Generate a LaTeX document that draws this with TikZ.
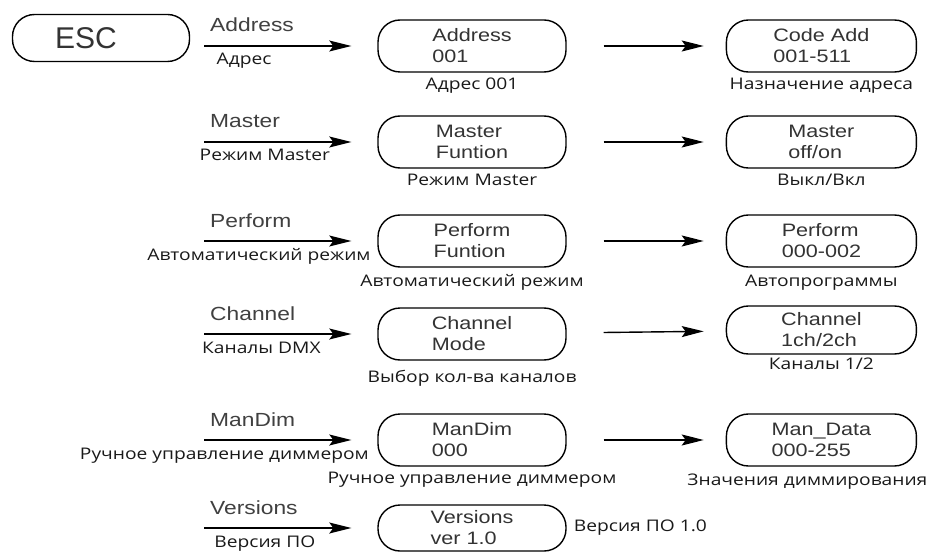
\documentclass[tikz,border=0pt]{standalone}
\usepackage{fontspec}
\setmainfont{Liberation Sans}[FakeStretch=1.2]
\newfontfamily\rufont{Open Sans}[FakeStretch=1.2]
\newfontfamily\escfont{Liberation Sans}
\usetikzlibrary{positioning}
\usetikzlibrary{arrows.meta}
\tikzset{x=1pt, y=-1pt, % one unit is one pixel, y runs downwards
menubox/.style={ % Rounded boxes of the menu
draw, line width=1.4pt,
rounded corners=22pt,
minimum width=188pt, minimum height=52pt,
align=left, text=black!80,
font=\fontsize{18pt}{21pt}\selectfont},
valbox/.style={menubox, minimum width=190pt}, % Boxes of the second column
escbox/.style={menubox, minimum width=177pt, minimum height=47pt,
rounded corners=22pt, text width=92pt,
font=\escfont\fontsize{30pt}{32pt}\selectfont},
keylabel/.style={anchor=base west, inner sep=0pt, yshift=14pt, % Label above an arrow
text=black!75, font=\fontsize{19pt}{21pt}\selectfont},
hintlabel/.style={anchor=base, inner sep=0pt, yshift=-19pt, % Label below an arrow
text=black!90, font=\rufont\fontsize{16pt}{19pt}\selectfont},
notelabel/.style={inner sep=1pt, text=black!90, % Text under a box
font=\rufont\fontsize{16pt}{19pt}\selectfont},
tip/.style={-{Stealth[length=22pt, width=11pt, inset=4pt]}}, % long filled arrow head
feed/.style={tip, shorten >=26pt},
link/.style={tip, shorten <=37pt, shorten >=22pt},
every edge/.style={ % Sets the properties for each arrow
draw,
line width=1.4pt}}

\begin{document}
\begin{tikzpicture}
	\fill[white] (0,0) rectangle (933,553);
	\useasboundingbox (0,0) rectangle (933,553);

	\node[escbox] (esc) at (101,38) {ESC};

	\node[menubox] (addr) at (472,46) {Address\\001};
	\node[menubox] (master) at (472,142) {Master\\Funtion};
	\node[menubox] (perform) at (472,241) {Perform\\Funtion};
	\node[menubox] (chan) at (472,334) {Channel\\Mode};
	\node[menubox] (mandim) at (472,440) {ManDim\\000};
	\node[menubox, minimum height=46pt] (ver) at (472,528) {Versions\\ver 1.0};

	\node[valbox, right=159pt of addr] (code) {Code Add\\001-511};
	\node[valbox, right=159pt of master] (onoff) {Master\\off/on};
	\node[valbox, right=159pt of perform] (prog) {Perform\\000-002};
	\node[valbox, right=159pt of chan, yshift=4pt, minimum height=48pt] (chnum) {Channel\\1ch/2ch};
	\node[valbox, right=159pt of mandim] (dimval) {Man\_Data\\000-255};

	\node[notelabel, below=4pt of addr] (addrNote) {Адрес 001};
	\node[notelabel, below=4pt of master] (masterNote) {Режим Master};
	\node[notelabel, below=6pt of perform] (performNote) {Автоматический режим};
	\node[notelabel, below=8pt of chan] (chanNote) {Выбор кол-ва каналов};
	\node[notelabel, below=4pt of mandim] (mandimNote) {Ручное управление диммером};
	\node[notelabel, right=6pt of ver] (verNote) {Версия ПО 1.0};

	\node[notelabel, below=4pt of code] (codeNote) {Назначение адреса};
	\node[notelabel, below=4pt of onoff] (onoffNote) {Выкл/Вкл};
	\node[notelabel, below=6pt of prog] (progNote) {Автопрограммы};
	\node[notelabel, below=2pt of chnum] (chnumNote) {Каналы 1/2};
	\node[notelabel, below=6pt of dimval, xshift=-14pt] (dimvalNote) {Значения диммирования};

	% free starts of the arrows into the menu
	\coordinate[left=173pt of addr] (toAddr);
	\coordinate[left=173pt of master] (toMaster);
	\coordinate[left=173pt of perform] (toPerform);
	\coordinate[left=173pt of chan] (toChan);
	\coordinate[left=173pt of mandim] (toMandim);
	\coordinate[left=173pt of ver] (toVer);

	\draw (toAddr) edge[feed] node[keylabel, pos=0.03] {Address} node[hintlabel, pos=0.23] {Адрес} (addr);
	\draw (toMaster) edge[feed] node[keylabel, pos=0.03] {Master} node[hintlabel, pos=0.35] {Режим Master} (master);
	\draw (toPerform) edge[feed] node[keylabel, pos=0.03] {Perform} node[hintlabel, anchor=base east, pos=0.965] {Автоматический режим} (perform);
	\draw (toChan) edge[feed] node[keylabel, pos=0.03] {Channel} node[hintlabel, pos=0.33] {Каналы DMX} (chan);
	\draw (toMandim) edge[feed] node[keylabel, pos=0.03] {ManDim} node[hintlabel, anchor=base east, pos=0.955] {Ручное управление диммером} (mandim);
	\draw (toVer) edge[feed] node[keylabel, pos=0.03] {Versions} node[hintlabel, pos=0.35] {Версия ПО} (ver);

	\draw (addr) edge[link] (code);
	\draw (master) edge[link] (onoff);
	\draw (perform) edge[link] (prog);
	\draw (chan) edge[link] (chnum);
	\draw (mandim) edge[link] (dimval);
\end{tikzpicture}
\end{document}
